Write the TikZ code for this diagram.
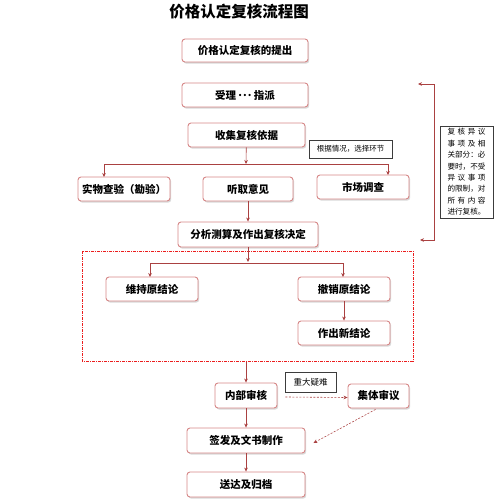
\documentclass[tikz,border=0pt]{standalone}
\usepackage{fontspec}
\setmainfont{Noto Sans CJK SC}
\usetikzlibrary{shadows,arrows.meta}
\definecolor{boxred}{RGB}{214,135,135}
\definecolor{linered}{RGB}{170,65,65}
\definecolor{rahmenrot}{RGB}{235,30,30}
\definecolor{notegray}{RGB}{60,60,60}
\newcommand{\sideline}[1]{\makebox[38pt][s]{#1}}

\begin{document}
\begin{tikzpicture}[x=1pt,y=-1pt,
    stepbox/.style={draw=boxred, line width=0.9pt, fill=white, rounded corners=3pt,
        inner sep=0pt, minimum height=24pt, font=\bfseries\fontsize{10.5}{12}\selectfont,
        drop shadow={opacity=0.3, shadow xshift=1.2pt, shadow yshift=-1.6pt}},
    notebox/.style={draw=notegray, line width=0.8pt, fill=white, inner sep=0pt,
        font=\fontsize{7.5}{9}\selectfont},
    flow/.style={draw=linered, line width=0.6pt, -{Stealth[length=4pt,width=3.6pt]}},
    dflow/.style={flow, dash pattern=on 2pt off 1.5pt}]
    \useasboundingbox (0,0) rectangle (497,500);

    % Rahmen um das Ergebnis
    \draw[rahmenrot, line width=1pt, densely dash dot] (82,251) rectangle (413,361);

    % Titel
    \node[font=\bfseries\fontsize{15.5}{18}\selectfont] (title) at (239,12) {价格认定复核流程图};

    % Antrag, Annahme, Grundlagen
    \node[stepbox, minimum width=126pt, minimum height=23pt] (tichu) at (245,50.5) {价格认定复核的提出};
    \node[stepbox, minimum width=126pt] (shouli) at (245,95) {受理\ \raisebox{2.8pt}{.\kern1pt.\kern1pt.}\ 指派};
    \node[stepbox, minimum width=117pt] (shouji) at (246.5,135) {收集复核依据};
    \node[notebox, minimum width=83pt, minimum height=18pt] (xuanze) at (350.5,149) {根据情况，选择环节};

    % drei Wege
    \node[stepbox, minimum width=92pt] (chayan) at (124,189) {实物查验（勘验）};
    \node[stepbox, minimum width=90pt] (tingqu) at (248,189) {听取意见};
    \node[stepbox, minimum width=92pt] (shichang) at (363,187) {市场调查};
    \coordinate (fenzhi) at (246,164);
    \draw[flow] (shouji) -- (fenzhi);
    \draw[flow] (104,164) -- (104,177);
    \draw[flow] (104,164) -- (388,164) -- (388,175);

    % Entscheidung
    \node[stepbox, minimum width=140pt, minimum height=25pt] (jueding) at (248,234.5) {分析测算及作出复核决定};
    \draw[flow] (tingqu) -- (jueding);

    % Ergebnis
    \node[stepbox, minimum width=92pt] (weichi) at (152,289) {维持原结论};
    \node[stepbox, minimum width=92pt] (chexiao) at (344,289) {撤销原结论};
    \node[stepbox, minimum width=92pt] (xinjie) at (344,333) {作出新结论};
    \coordinate (fenzhi2) at (248,262);
    \draw[flow] (jueding) -- (fenzhi2);
    \draw[flow] (150,263) -- (150,277);
    \draw[flow] (150,263) -- (343,263) -- (343,277);
    \draw[flow] (chexiao) -- (xinjie);

    % Pruefung und Abschluss
    \coordinate (rahmen) at (246,362);
    \node[stepbox, minimum width=62pt, minimum height=25pt] (neibu) at (246,395.5) {内部审核};
    \node[stepbox, minimum width=61pt] (jiti) at (378.5,396) {集体审议};
    \node[notebox, minimum width=51pt, minimum height=20pt, font=\fontsize{8.5}{10}\selectfont] (yinan) at (310.5,382) {重大疑难};
    \node[stepbox, minimum width=118pt, minimum height=25pt] (qianfa) at (246,440.5) {签发及文书制作};
    \node[stepbox, minimum width=118pt, minimum height=25pt] (songda) at (246,484.5) {送达及归档};
    \draw[flow] (rahmen) -- (neibu);
    \draw[dflow] ([xshift=8pt,yshift=-1.5pt]neibu.east) -- ([yshift=-1.5pt]jiti.west);
    \draw[dflow] ([xshift=-3pt,yshift=-1pt]jiti.south) -- ([xshift=8pt,yshift=-2.5pt]qianfa.east);
    \draw[flow] (neibu) -- (qianfa);
    \draw[flow] (qianfa) -- (songda);

    % Rueckfuehrung rechts
    \coordinate (fbtop) at (418,84);
    \coordinate (fbbot) at (420,240);
    \draw[flow, {Stealth[length=4pt,width=3.6pt]}-{Stealth[length=4pt,width=3.6pt]}]
        (fbtop) -- (434,84) -- (434,240) -- (fbbot);
    \node[notebox, minimum width=53pt, minimum height=92pt, align=center,
        font=\fontsize{7.6}{11.4}\selectfont] (yiyi) at (466.5,172)
        {\sideline{复\hfill 核\hfill 异\hfill 议}\\
         \sideline{事\hfill 项\hfill 及\hfill 相}\\
         \sideline{关\hfill 部\hfill 分：\hfill 必}\\
         \sideline{要\hfill 时，\hfill 不\hfill 受}\\
         \sideline{异\hfill 议\hfill 事\hfill 项}\\
         \sideline{的\hfill 限\hfill 制，\hfill 对}\\
         \sideline{所\hfill 有\hfill 内\hfill 容}\\
         \sideline{进\hfill 行\hfill 复\hfill 核。}};
\end{tikzpicture}
\end{document}
